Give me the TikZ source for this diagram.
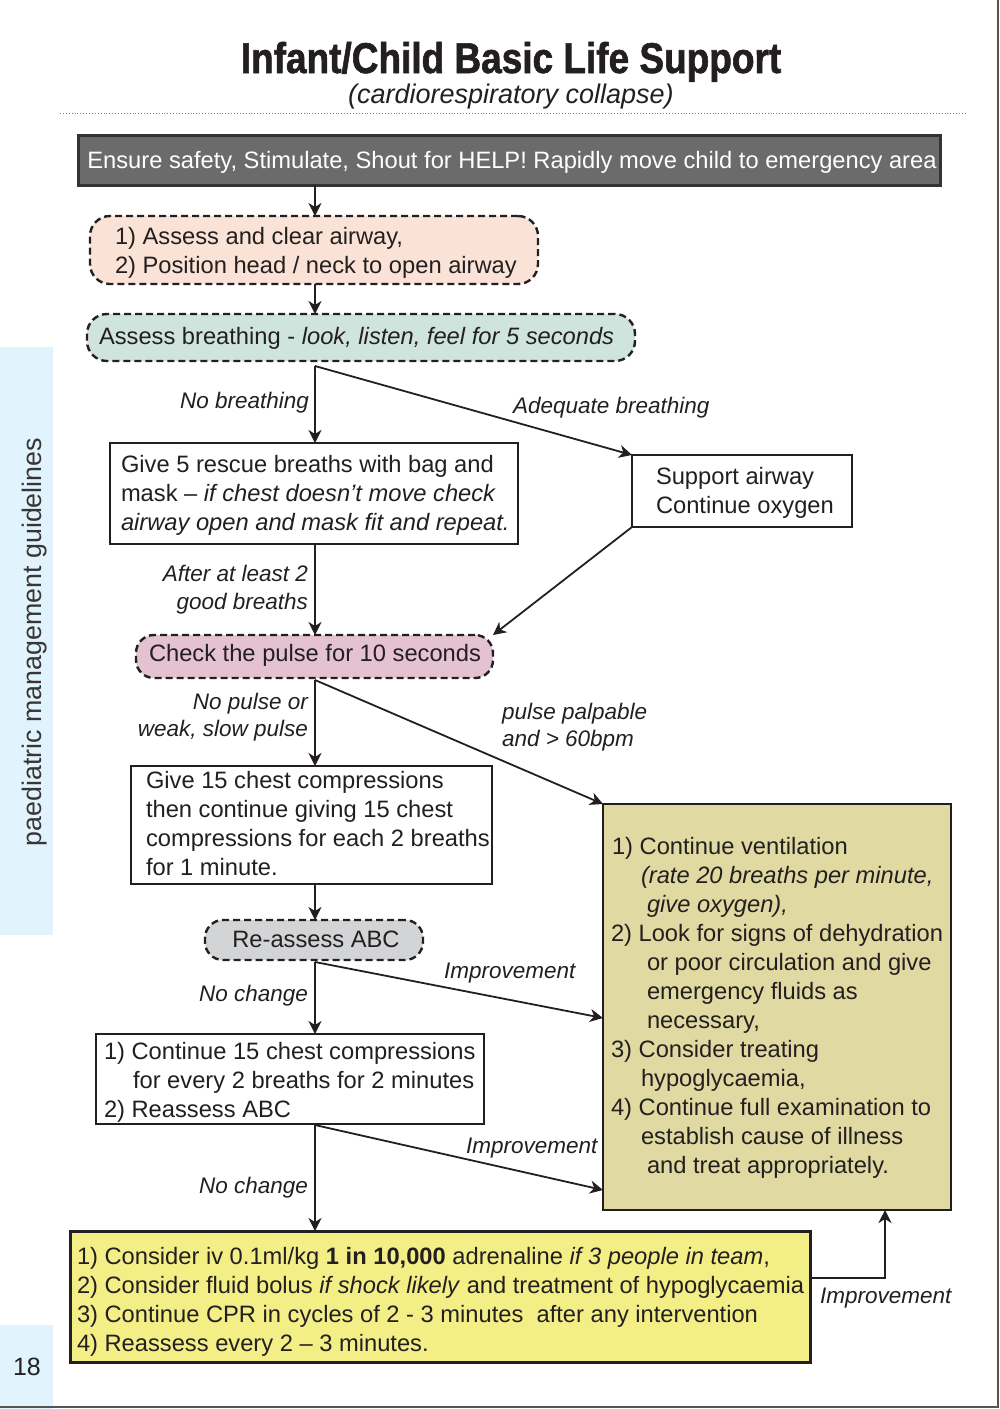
\documentclass[tikz,border=0pt]{standalone}
\usepackage{fontspec}
\setmainfont{Liberation Sans}
\newfontfamily\titlefont{Liberation Sans}[FakeStretch=0.86, BoldFeatures={FakeBold=1.4}]
\usetikzlibrary{arrows.meta,fit,calc}

\definecolor{ink}{HTML}{231F20}
\definecolor{darkfill}{HTML}{6B6B6C}
\definecolor{darkedge}{HTML}{333333}
\definecolor{peach}{HTML}{FBE2D6}
\definecolor{mint}{HTML}{CFE4DC}
\definecolor{mauve}{HTML}{E4C2D2}
\definecolor{lightgrey}{HTML}{D3D4D5}
\definecolor{khaki}{HTML}{E0D9A1}
\definecolor{lemon}{HTML}{F3EE86}
\definecolor{tabblue}{HTML}{E1F3FD}
\definecolor{pagegray}{HTML}{555555}

\begin{document}
\begin{tikzpicture}[x=1pt,y=-1pt,
  every node/.style={inner sep=0pt, outer sep=0pt},
  txt/.style={font=\fontsize{23.7}{29}\selectfont, text=ink},
  lbl/.style={font=\fontsize{22.5}{29}\selectfont\itshape, text=ink},
  plainbox/.style={draw=ink, line width=2.2pt, fill=white},
  heavybox/.style={draw=ink, line width=3pt},
  dashbox/.style={draw=ink, line width=2.4pt, dash pattern=on 7pt off 4pt, rounded corners=20pt},
  arr/.style={draw=ink, line width=1.8pt, -{Stealth[length=13pt,width=13pt,inset=4pt]}}
]
\useasboundingbox (0,0) rectangle (1000,1409);

% side tabs and page edge
\fill[tabblue] (0,347) rectangle (53,935);
\fill[tabblue] (0,1325) rectangle (53,1409);
\node[txt, rotate=90, font=\fontsize{26.8}{29}\selectfont, text=ink!90] (tab) at (35,642) {paediatric management guidelines};
\node[txt, font=\fontsize{25}{29}\selectfont] (pageno) at (27,1367) {18};
\draw[pagegray, line width=2.5pt] (998,0) -- (998,1407) -- (0,1407);

% heading
\node[anchor=base, text=ink, font=\titlefont\bfseries\fontsize{43}{48}\selectfont] (title) at (511,73) {Infant/Child Basic Life Support};
\node[anchor=base, text=ink, font=\fontsize{27}{29}\selectfont\itshape] (subtitle) at (511,103) {(cardiorespiratory collapse)};
\draw[gray, dotted, line width=0.9pt] (60,113) -- (965,113);

% boxes
\node[heavybox, draw=darkedge, fill=darkfill, fit={(78,135) (940,185)}] (safety) {};
\node[dashbox, fill=peach, fit={(90,216) (538,284)}] (airway) {};
\node[dashbox, fill=mint, fit={(87,314) (635,361)}] (breath) {};
\node[plainbox, fit={(110,443) (518,544)}] (rescue) {};
\node[plainbox, fit={(632,455) (852,527)}] (support) {};
\node[dashbox, fill=mauve, rounded corners=18pt, fit={(136,635) (493,678)}] (pulse) {};
\node[plainbox, fit={(131,766) (492,884)}] (compress) {};
\node[dashbox, fill=lightgrey, rounded corners=18pt, fit={(205,920) (423,960)}] (reassess) {};
\node[plainbox, fit={(96,1034) (484,1124)}] (contbox) {};
\node[plainbox, line width=2.4pt, fill=khaki, fit={(603,804) (951,1210)}] (stable) {};
\node[heavybox, fill=lemon, fit={(70,1231) (810,1362)}] (adren) {};

% box texts
\node[txt, text=white, anchor=base] (safetytxt) at (512,168) {Ensure safety, Stimulate, Shout for HELP! Rapidly move child to emergency area};
\node[txt, anchor=base west] (a1) at (115,244) {1) Assess and clear airway,};
\node[txt, anchor=base west] (a2) at (115,273) {2) Position head / neck to open airway};
\node[txt, anchor=base west] (b1) at (99,344) {Assess breathing - \textit{look, listen, feel for 5 seconds}};
\node[txt, anchor=base west] (r1) at (121,472) {Give 5 rescue breaths with bag and};
\node[txt, anchor=base west] (r2) at (121,501) {mask -- \textit{if chest doesn’t move check}};
\node[txt, anchor=base west] (r3) at (121,530) {\textit{airway open and mask fit and repeat.}};
\node[txt, anchor=base west] (s1) at (656,484) {Support airway};
\node[txt, anchor=base west] (s2) at (656,513) {Continue oxygen};
\node[txt, anchor=base west] (p1) at (149,661) {Check the pulse for 10 seconds};
\node[txt, anchor=base west] (c1) at (146,788) {Give 15 chest compressions};
\node[txt, anchor=base west] (c2) at (146,817) {then continue giving 15 chest};
\node[txt, anchor=base west] (c3) at (146,846) {compressions for each 2 breaths};
\node[txt, anchor=base west] (c4) at (146,875) {for 1 minute.};
\node[txt, anchor=base] (ra) at (316,947) {Re-assess ABC};
\node[txt, anchor=base west] (k1) at (104,1059) {1) Continue 15 chest compressions};
\node[txt, anchor=base west] (k2) at (133,1088) {for every 2 breaths for 2 minutes};
\node[txt, anchor=base west] (k3) at (104,1117) {2) Reassess ABC};

\node[txt, anchor=base west] (v1) at (612,854) {1) Continue ventilation};
\node[txt, anchor=base west] (v2) at (641,883) {\textit{(rate 20 breaths per minute,}};
\node[txt, anchor=base west] (v3) at (647,912) {\textit{give oxygen),}};
\node[txt, anchor=base west] (v4) at (611,941) {2) Look for signs of dehydration};
\node[txt, anchor=base west] (v5) at (647,970) {or poor circulation and give};
\node[txt, anchor=base west] (v6) at (647,999) {emergency fluids as};
\node[txt, anchor=base west] (v7) at (647,1028) {necessary,};
\node[txt, anchor=base west] (v8) at (611,1057) {3) Consider treating};
\node[txt, anchor=base west] (v9) at (641,1086) {hypoglycaemia,};
\node[txt, anchor=base west] (v10) at (611,1115) {4) Continue full examination to};
\node[txt, anchor=base west] (v11) at (641,1144) {establish cause of illness};
\node[txt, anchor=base west] (v12) at (647,1173) {and treat appropriately.};

\node[txt, anchor=base west] (y1) at (77,1264) {1) Consider iv 0.1ml/kg \textbf{1 in 10,000} adrenaline \textit{if 3 people in team},};
\node[txt, anchor=base west] (y2) at (77,1293) {2) Consider fluid bolus \textit{if shock likely} and treatment of hypoglycaemia};
\node[txt, anchor=base west] (y3) at (77,1322) {3) Continue CPR in cycles of 2 - 3 minutes\ \ after any intervention};
\node[txt, anchor=base west] (y4) at (77,1351) {4) Reassess every 2 -- 3 minutes.};

% connectors
\coordinate (spine) at (315,0);
\coordinate (br1) at ($(breath.south -| spine)+(0,5)$);
\coordinate (br2) at ($(pulse.south -| spine)+(0,2)$);
\coordinate (br3) at ($(reassess.south -| spine)+(0,2)$);
\coordinate (br4) at ($(contbox.south -| spine)+(0,1)$);

\draw[arr] (safety.south -| spine) -- (airway.north -| spine);
\draw[arr] (airway.south -| spine) -- (breath.north -| spine);
\draw[arr] (br1) -- (rescue.north -| spine);
\draw[arr] (br1) -- (support.north west);
\draw[arr] (rescue.south -| spine) -- (pulse.north -| spine);
\draw[arr] (support.south west) -- (pulse.north east);
\draw[arr] (br2) -- (compress.north -| spine);
\draw[arr] (br2) -- (stable.north west);
\draw[arr] (compress.south -| spine) -- (reassess.north -| spine);
\draw[arr] (br3) -- (contbox.north -| spine);
\draw[arr] (br3) -- (stable.west |- 0,1018);
\draw[arr] (br4) -- (adren.north -| spine);
\draw[arr] (br4) -- (stable.west |- 0,1190);
\draw[arr] (adren.east |- 0,1278) -| (stable.south -| 885,0);

% connector labels
\node[lbl, anchor=base east] (l1) at (309,408) {No breathing};
\node[lbl, anchor=base west] (l2) at (513,413) {Adequate breathing};
\node[lbl, anchor=base east] (l3) at (308,581) {After at least 2};
\node[lbl, anchor=base east] (l4) at (308,609) {good breaths};
\node[lbl, anchor=base east] (l5) at (308,709) {No pulse or};
\node[lbl, anchor=base east] (l6) at (308,736) {weak, slow pulse};
\node[lbl, anchor=base west] (l7) at (502,719) {pulse palpable};
\node[lbl, anchor=base west] (l8) at (502,746) {and > 60bpm};
\node[lbl, anchor=base west] (l9) at (444,978) {Improvement};
\node[lbl, anchor=base east] (l10) at (308,1001) {No change};
\node[lbl, anchor=base west] (l11) at (466,1153) {Improvement};
\node[lbl, anchor=base east] (l12) at (308,1193) {No change};
\node[lbl, anchor=base west] (l13) at (820,1303) {Improvement};
\end{tikzpicture}
\end{document}
